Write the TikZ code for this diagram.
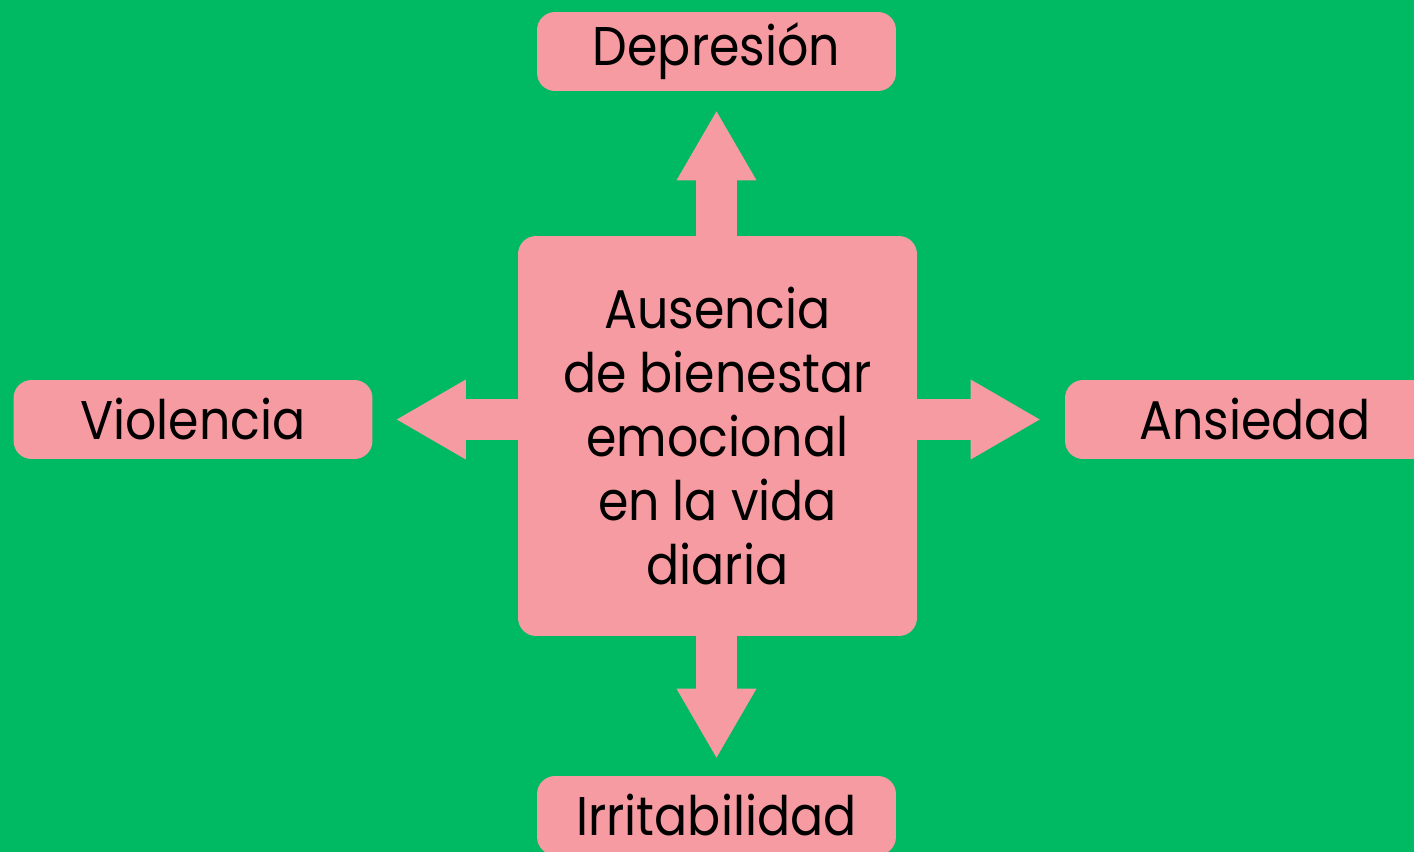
\documentclass[tikz,border=0pt]{standalone}
\usepackage{fontspec}
\setmainfont{Poppins}[FakeStretch=0.9]
\usetikzlibrary{arrows.meta}
\definecolor{bggreen}{RGB}{0,185,99}
\definecolor{boxpink}{RGB}{246,155,162}
\begin{document}
\begin{tikzpicture}[x=0.02cm, y=-0.02cm,
	every node/.style={font=\fontsize{31}{36.3}\selectfont, text=black},
	outerbox/.style={fill=boxpink, rounded corners=0.36cm, minimum width=7.18cm, minimum height=1.58cm, inner sep=0pt},
	centerbox/.style={fill=boxpink, rounded corners=0.36cm, minimum width=7.98cm, minimum height=8cm, align=center, inner sep=0pt},
	blockarrow/.style={boxpink, line width=0.82cm, -{Triangle[length=1.38cm, width=1.6cm, line width=0pt]}}]
	\fill[bggreen] (0,0) rectangle (1414,852);
	\clip (0,0) rectangle (1414,852);
	\node[centerbox] (C) at (717.5,436) {Ausencia\\de bienestar\\emocional\\en la vida\\diaria};
	\node[outerbox] (D) at (716.5,51.5) {Depresi\'on};
	\node[outerbox] (V) at (193,419.5) {Violencia};
	\node[outerbox, minimum width=7.6cm] (A) at (1255,419.5) {Ansiedad};
	\node[outerbox] (I) at (716.5,815.5) {Irritabilidad};
	\draw[blockarrow, shorten >=0.4cm] (C.north -| D.south) -- (D.south);
	\draw[blockarrow, shorten >=0.36cm] (C.south -| I.north) -- (I.north);
	\draw[blockarrow, shorten >=0.48cm] (C.west |- V.east) -- (V.east);
	\draw[blockarrow, shorten >=0.5cm] (C.east |- A.west) -- (A.west);
\end{tikzpicture}
\end{document}
